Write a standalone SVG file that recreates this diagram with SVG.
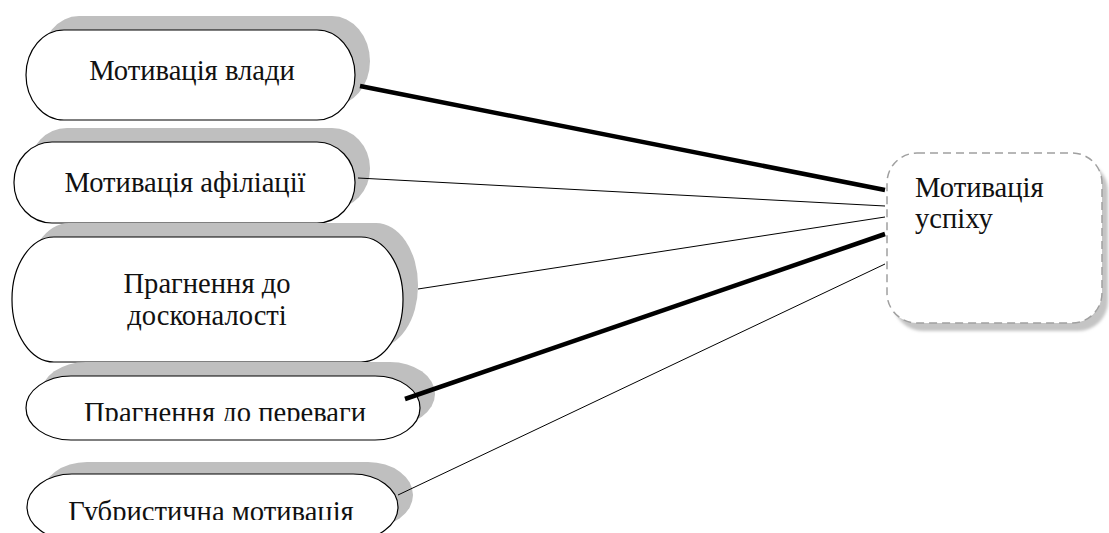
<svg xmlns="http://www.w3.org/2000/svg" width="1109" height="533" viewBox="0 0 1109 533">
<defs>
<style>
.sh{fill:#bfbfbf;stroke:none}
.pill{fill:#fff;stroke:#000;stroke-width:1.2}
.t{font-family:"Liberation Serif","Times New Roman",serif;font-size:28.6px;fill:#111}
.c{text-anchor:middle}
.thin{stroke:#000;stroke-width:1;fill:none}
.thick{stroke:#000;stroke-width:4.5;fill:none}
</style>
<clipPath id="clip4"><rect x="0" y="370" width="460" height="51"/></clipPath>
<clipPath id="clip5"><rect x="0" y="470" width="460" height="50"/></clipPath>
<filter id="blur" x="-10%" y="-10%" width="120%" height="120%"><feGaussianBlur stdDeviation="1.5"/></filter>
</defs>
<rect width="1109" height="533" fill="#fff"/>
<g id="node-vlady">
<rect class="sh" x="41" y="16" width="329" height="90" rx="38" ry="45"/>
<rect class="pill" x="26" y="30" width="329" height="90" rx="38" ry="45"/>
<text class="t c" x="192" y="80">Мотивація влади</text>
</g>
<g id="node-afiliatsii">
<rect class="sh" x="29" y="128" width="341" height="81" rx="38" ry="40"/>
<rect class="pill" x="14" y="142" width="341" height="81" rx="38" ry="40"/>
<text class="t c" x="185" y="192">Мотивація афіліації</text>
</g>
<g id="node-doskonalosti">
<rect class="sh" x="27" y="223" width="391" height="125" rx="42" ry="62"/>
<rect class="pill" x="12" y="237" width="391" height="125" rx="42" ry="62"/>
<text class="t c" x="207" y="293">Прагнення до</text>
<text class="t c" x="207" y="325">досконалості</text>
</g>
<g id="node-perevagy">
<rect class="sh" x="41" y="362" width="394" height="64" rx="45" ry="32"/>
<rect class="pill" x="26" y="376" width="394" height="64" rx="45" ry="32"/>
<text class="t c" x="225" y="422" clip-path="url(#clip4)">Прагнення до переваги</text>
</g>
<g id="node-hubrystychna">
<rect class="sh" x="42" y="462" width="371" height="66" rx="45" ry="33"/>
<rect class="pill" x="27" y="474" width="371" height="66" rx="45" ry="33"/>
<text class="t c" x="211" y="521" clip-path="url(#clip5)">Губристична мотивація</text>
</g>
<g id="node-uspikhu">
<rect x="893" y="161" width="215" height="170" rx="30" ry="30" fill="#c4c4c4" filter="url(#blur)"/>
<rect x="887" y="153" width="215" height="170" rx="30" ry="30" fill="#fff" stroke="#a0a0a0" stroke-width="1.5" stroke-dasharray="8,5"/>
<text class="t" x="915" y="197">Мотивація</text>
<text class="t" x="915" y="228">успіху</text>
</g>
<g id="connectors">
<line class="thick" x1="360" y1="86" x2="885" y2="190"/>
<line class="thin" x1="358" y1="178" x2="885" y2="206"/>
<line class="thin" x1="418" y1="289" x2="885" y2="217"/>
<line class="thick" x1="405" y1="399" x2="885" y2="234"/>
<line class="thin" x1="398" y1="495" x2="885" y2="264"/>
</g>
</svg>
